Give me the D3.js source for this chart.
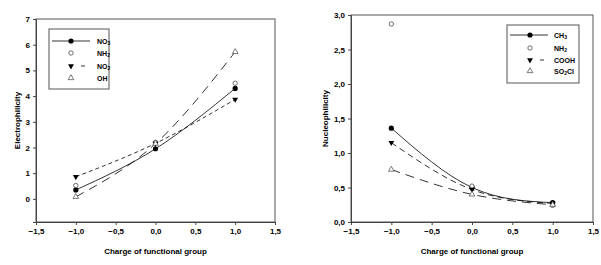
<!DOCTYPE html>
<meta charset="utf-8">
<head>
<script src="https://d3js.org/d3.v7.min.js"></script>
<style>
  html, body { margin: 0; padding: 0; background: #fff; }
  svg text { font-family: "Liberation Sans", Arial, sans-serif; fill: #000; }
  .tick text { font-size: 8px; font-weight: bold; }
  .ax-title { font-size: 8px; font-weight: bold; }
  .leg text { font-size: 7px; font-weight: bold; }
</style>
</head>
<body>
<div id="chart"></div>
<script>
// ---- data ----
var charges = [-1, 0, 1];
var xTicks = [-1.5, -1.0, -0.5, 0.0, 0.5, 1.0, 1.5];

// left panel: electrophilicity
var elecNO3 = [0.35, 1.95, 4.30];
var elecNH2 = [0.52, 2.20, 4.50];
var elecNO2 = [0.86, 2.16, 3.87];
var elecOH  = [0.08, 2.15, 5.72];
var elecTicks = [0, 1, 2, 3, 4, 5, 6, 7];

// right panel: nucleophilicity
var nucCH3   = [1.36, 0.50, 0.28];
var nucNH2   = [2.87, 0.52, 0.24];
var nucCOOH  = [1.15, 0.47, 0.27];
var nucSO2Cl = [0.76, 0.40, 0.25];
var nucTicks = [0, 0.5, 1.0, 1.5, 2.0, 2.5, 3.0];

var svg = d3.select("#chart").append("svg")
  .attr("width", 601).attr("height", 265);

var comma = d => d3.format(".1f")(d).replace(".", ",");

function drawPanel(p) {
  var x = d3.scaleLinear().domain([-1.5, 1.5]).range([p.left, p.right]);
  var y = d3.scaleLinear().domain(p.yDomain).range([p.bottom, p.top]);
  var g = svg.append("g");

  // frame
  g.append("rect")
    .attr("x", p.left).attr("y", p.top)
    .attr("width", p.right - p.left).attr("height", p.bottom - p.top)
    .attr("fill", "none").attr("stroke", "#555").attr("stroke-width", 1);

  var xa = g.append("g")
    .attr("transform", "translate(0," + p.bottom + ")")
    .call(d3.axisBottom(x).tickValues(xTicks).tickFormat(comma).tickSize(3).tickPadding(3));
  var ya = g.append("g")
    .attr("transform", "translate(" + p.left + ",0)")
    .call(d3.axisLeft(y).tickValues(p.yTicks).tickFormat(p.yFormat).tickSize(3).tickPadding(3));
  [xa, ya].forEach(a => {
    a.select(".domain").attr("stroke", "#444");
    a.selectAll(".tick line").attr("stroke", "#444");
  });

  g.append("text").attr("class", "ax-title")
    .attr("x", (p.left + p.right) / 2).attr("y", 254)
    .attr("text-anchor", "middle")
    .text("Charge of functional group");
  g.append("text").attr("class", "ax-title")
    .attr("transform", "translate(" + p.titleX + "," + ((p.top + p.bottom) / 2) + ") rotate(-90)")
    .attr("text-anchor", "middle")
    .text(p.yTitle);

  var line = d3.line()
    .x((d, i) => x(charges[i]))
    .y(d => y(d))
    .curve(d3.curveNatural);

  p.series.forEach(s => {
    if (s.dash !== null) {
      g.append("path")
        .attr("d", line(s.values))
        .attr("fill", "none")
        .attr("stroke", "#000")
        .attr("stroke-width", 0.8)
        .attr("stroke-dasharray", s.dash);
    }
  });
  p.series.forEach(s => {
    s.values.forEach((v, i) => drawMarker(g, s.marker, x(charges[i]), y(v)));
  });

  // legend
  var leg = g.append("g").attr("class", "leg");
  leg.append("rect")
    .attr("x", p.leg.x).attr("y", p.leg.y)
    .attr("width", p.leg.w).attr("height", p.leg.h)
    .attr("fill", "#fff").attr("stroke", "#555").attr("stroke-width", 1);
  p.series.forEach((s, i) => {
    var ry = p.leg.rows[i];
    var sx = p.leg.x + p.leg.symX;
    if (s.legDash === "") {
      leg.append("line")
        .attr("x1", p.leg.x + 3).attr("x2", p.leg.x + p.leg.lineEnd)
        .attr("y1", ry).attr("y2", ry)
        .attr("stroke", "#000").attr("stroke-width", 0.8);
    } else if (s.legDash === "short") {
      leg.append("line")
        .attr("x1", sx + 10).attr("x2", sx + 14)
        .attr("y1", ry).attr("y2", ry)
        .attr("stroke", "#000").attr("stroke-width", 0.8);
    }
    drawMarker(leg, s.marker, sx, ry);
    var t = leg.append("text")
      .attr("x", p.leg.x + p.leg.textX).attr("y", ry + 2.5);
    s.label.forEach(part => {
      var ts = t.append("tspan").text(part[0]);
      if (part[1]) ts.attr("font-size", "5px").attr("dy", "1.5");
      else if (t.selectAll("tspan").size() > 1) ts.attr("dy", "-1.5");
    });
  });
}

function drawMarker(g, type, cx, cy) {
  if (type === "dot") {
    g.append("circle").attr("cx", cx).attr("cy", cy).attr("r", 2.6).attr("fill", "#000");
  } else if (type === "circle") {
    g.append("circle").attr("cx", cx).attr("cy", cy).attr("r", 2.2)
      .attr("fill", "#fff").attr("stroke", "#333").attr("stroke-width", 0.7);
  } else if (type === "tridown") {
    g.append("path").attr("d", d3.symbol(d3.symbolTriangle, 15)())
      .attr("transform", "translate(" + cx + "," + cy + ") rotate(180)")
      .attr("fill", "#000");
  } else if (type === "triup") {
    g.append("path").attr("d", d3.symbol(d3.symbolTriangle, 14)())
      .attr("transform", "translate(" + cx + "," + cy + ")")
      .attr("fill", "#fff").attr("stroke", "#444").attr("stroke-width", 0.7);
  }
}

drawPanel({
  left: 36, right: 275, top: 19, bottom: 222,
  yDomain: [-0.9, 7], yTicks: elecTicks, yFormat: d3.format("d"),
  yTitle: "Electrophilicity", titleX: 20,
  series: [
    { values: elecNO3, marker: "dot", dash: "", legDash: "", label: [["NO"], ["3", true]] },
    { values: elecNH2, marker: "circle", dash: null, legDash: null, label: [["NH"], ["2", true]] },
    { values: elecNO2, marker: "tridown", dash: "4,3", legDash: "short", label: [["NO"], ["2", true]] },
    { values: elecOH, marker: "triup", dash: "9,6", legDash: null, label: [["OH"]] }
  ],
  leg: { x: 49, y: 29, w: 60, h: 60, rows: [41, 53, 66, 78], symX: 22, lineEnd: 41, textX: 48 }
});

drawPanel({
  left: 351, right: 593, top: 15, bottom: 222,
  yDomain: [0, 3], yTicks: nucTicks, yFormat: comma,
  yTitle: "Nucleophilicity", titleX: 328,
  series: [
    { values: nucCH3, marker: "dot", dash: "", legDash: "", label: [["CH"], ["3", true]] },
    { values: nucNH2, marker: "circle", dash: null, legDash: null, label: [["NH"], ["2", true]] },
    { values: nucCOOH, marker: "tridown", dash: "6,4", legDash: "short", label: [["COOH"]] },
    { values: nucSO2Cl, marker: "triup", dash: "9,6", legDash: null, label: [["SO"], ["2", true], ["Cl"]] }
  ],
  leg: { x: 507, y: 25, w: 72, h: 58, rows: [35, 48, 60, 71], symX: 23, lineEnd: 41, textX: 47 }
});
</script>
</body>
</html>
